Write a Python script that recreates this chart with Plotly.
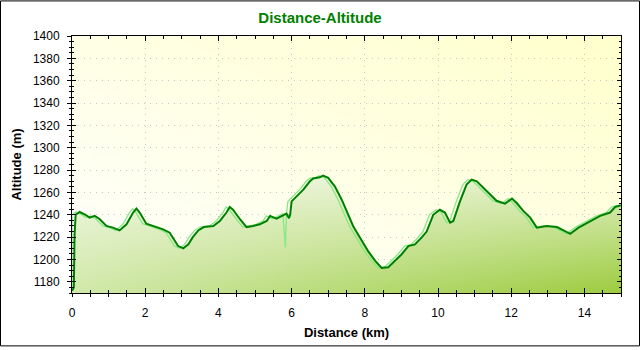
import base64, struct, zlib
import numpy as np
import plotly.graph_objects as go

# ---------------- data ----------------
dist_km = [0.0, 0.05, 0.07, 0.10, 0.21, 0.37, 0.48, 0.62, 0.76, 0.94, 1.12, 1.30, 1.49, 1.67,
           1.76, 1.85, 2.03, 2.21, 2.49, 2.67, 2.76, 2.90, 3.04, 3.18, 3.30, 3.45, 3.60, 3.86,
           4.04, 4.22, 4.31, 4.40, 4.59, 4.77, 4.95, 5.13, 5.32, 5.41, 5.59, 5.86, 5.93, 5.96,
           6.00, 6.14, 6.32, 6.50, 6.59, 6.77, 6.86, 7.00, 7.18, 7.37, 7.55, 7.68, 7.87, 8.09,
           8.28, 8.46, 8.64, 8.82, 9.00, 9.19, 9.37, 9.55, 9.69, 9.87, 10.05, 10.19, 10.33,
           10.42, 10.60, 10.78, 10.92, 11.06, 11.24, 11.42, 11.60, 11.83, 12.02, 12.15, 12.33,
           12.52, 12.70, 12.97, 13.25, 13.43, 13.61, 13.84, 14.16, 14.43, 14.70, 14.84, 15.0]
altitude_m = [1172, 1175, 1222, 1240, 1242.5, 1240, 1237.5, 1239, 1236, 1230, 1228.5, 1226,
              1231.5, 1242, 1245.5, 1242, 1232, 1230, 1227, 1224, 1219.5, 1212, 1210, 1213.5,
              1220, 1226, 1229, 1230, 1234.5, 1242, 1247, 1244.5, 1236, 1229, 1230, 1231.5,
              1234.5, 1239, 1236.5, 1241, 1237, 1240, 1252, 1256.5, 1262.5, 1270, 1272.5,
              1273.5, 1275, 1273, 1265.5, 1253.5, 1240.5, 1230, 1219.5, 1207.5, 1199, 1192.5,
              1193, 1199, 1204.5, 1212, 1213.5, 1219.5, 1225, 1240, 1244.5, 1242, 1233, 1234.5,
              1252, 1267, 1271.5, 1270, 1264, 1258, 1252.5, 1250, 1254.5, 1250.5, 1243.5,
              1237.5, 1228.5, 1230, 1229, 1226, 1223, 1228.5, 1234.5, 1239, 1242, 1247, 1248.5]
# raw (unsmoothed) track: same profile, slightly ahead, with a GPS glitch near 6 km
raw_shift_km = 0.1
raw_glitch = {40: 1211}

x_ticks = [0, 2, 4, 6, 8, 10, 12, 14]
y_ticks = list(range(1180, 1401, 20))
x_range = [0, 15]
y_range = [1170, 1400]

raw_dist = [max(0.0, d - raw_shift_km) for d in dist_km]
raw_alt = [raw_glitch.get(i, a) for i, a in enumerate(altitude_m)]

# ---------------- background gradient image ----------------
def png_b64(arr):
    h, w, _ = arr.shape
    raw = b"".join(b"\x00" + arr[r].tobytes() for r in range(h))
    def chunk(tag, data):
        c = tag + data
        return struct.pack(">I", len(data)) + c + struct.pack(">I", zlib.crc32(c) & 0xffffffff)
    png = b"\x89PNG\r\n\x1a\n" + chunk(b"IHDR", struct.pack(">IIBBBBB", w, h, 8, 2, 0, 0, 0)) \
        + chunk(b"IDAT", zlib.compress(raw, 9)) + chunk(b"IEND", b"")
    return "data:image/png;base64," + base64.b64encode(png).decode()

W, H = 128, 64
u = np.linspace(0, 1, W)[None, :]
v = np.linspace(0, 1, H)[:, None]
t = (u + (1 - v)) / 2.0
c0 = np.array([255, 255, 255], float)
c1 = np.array([255, 255, 205], float)
img = (c0[None, None, :] * (1 - t[..., None]) + c1[None, None, :] * t[..., None]).astype(np.uint8)
bg_src = png_b64(img)

fig = go.Figure()

# base green fill (horizontal gradient)
fig.add_trace(go.Scatter(
    x=dist_km, y=altitude_m, mode="lines", line=dict(width=0), fill="tozeroy",
    fillgradient=dict(type="horizontal", start=x_range[0], stop=x_range[1],
                      colorscale=[[0, "rgb(208,232,168)"], [1, "rgb(155,203,60)"]]),
    hoverinfo="skip", showlegend=False))
# white vertical overlay (lighter towards top)
fig.add_trace(go.Scatter(
    x=dist_km, y=altitude_m, mode="lines", line=dict(width=0), fill="tozeroy",
    fillgradient=dict(type="vertical", start=1170, stop=1280,
                      colorscale=[[0, "rgba(255,255,255,0)"], [0.68, "rgba(255,255,255,0.5)"],
                                  [1, "rgba(255,255,255,0.75)"]]),
    hoverinfo="skip", showlegend=False))
# raw track
fig.add_trace(go.Scatter(x=raw_dist, y=raw_alt, mode="lines",
                         line=dict(color="#86e886", width=1.3), showlegend=False))
# smoothed track
fig.add_trace(go.Scatter(x=dist_km, y=altitude_m, mode="lines",
                         line=dict(color="#008000", width=2), showlegend=False))
# invisible trace to activate overlay axes
fig.add_trace(go.Scatter(x=x_range, y=y_range, xaxis="x2", yaxis="y2", mode="lines",
                         line=dict(width=0), hoverinfo="skip", showlegend=False))

font_family = "Liberation Sans, Arial, sans-serif"
L, R, T, B = 72, 19, 36, 54
PW, PH = 640 - L - R, 350 - T - B

fig.update_layout(
    width=640, height=350,
    margin=dict(l=L, r=R, t=T, b=B),
    paper_bgcolor="white", plot_bgcolor="rgba(0,0,0,0)",
    font=dict(family=font_family, size=12, color="black"),
    title=dict(text="<b>Distance-Altitude</b>", x=0.5, xanchor="center",
               y=1 - 18 / 350, yanchor="middle", yref="container",
               font=dict(size=15, color="#008000", family=font_family)),
    xaxis=dict(range=x_range, tickvals=x_ticks, ticks="outside", ticklen=3, tickcolor="black",
               minor=dict(dtick=0.5, ticks="outside", ticklen=3, tickcolor="black", showgrid=False),
               showline=True, linecolor="black", linewidth=1, mirror=False,
               showgrid=True, gridcolor="#c8c8c8", griddash="1px,5px", gridwidth=1,
               zeroline=False, ticklabelstandoff=6,
               title=dict(text="<b>Distance (km)</b>", standoff=8, font=dict(size=13))),
    yaxis=dict(range=y_range, tickvals=y_ticks, ticks="outside", ticklen=4, tickcolor="black",
               minor=dict(dtick=5, ticks="outside", ticklen=2, tickcolor="black", showgrid=False),
               showline=True, linecolor="black", linewidth=1, mirror=False,
               showgrid=True, gridcolor="#c8c8c8", griddash="1px,5px", gridwidth=1,
               zeroline=False, ticklabelstandoff=5,
               title=dict(text="<b>Altitude (m)</b>", standoff=8, font=dict(size=13))),
    xaxis2=dict(range=x_range, overlaying="x", side="bottom", tickvals=x_ticks, ticks="inside",
                ticklen=5, tickcolor="black", showticklabels=False, showgrid=False,
                minor=dict(dtick=0.5, ticks="inside", ticklen=3, tickcolor="black"),
                showline=True, linecolor="black", mirror="ticks", zeroline=False),
    yaxis2=dict(range=y_range, overlaying="y", side="left", tickvals=y_ticks, ticks="inside",
                ticklen=4, tickcolor="black", showticklabels=False, showgrid=False,
                minor=dict(dtick=5, ticks="inside", ticklen=2, tickcolor="black"),
                showline=True, linecolor="black", mirror="ticks", zeroline=False),
    images=[dict(source=bg_src, xref="x", yref="y", x=x_range[0], y=y_range[1],
                 sizex=x_range[1] - x_range[0], sizey=y_range[1] - y_range[0],
                 sizing="stretch", layer="below", xanchor="left", yanchor="top")],
    shapes=[dict(type="rect", xref="paper", yref="paper",
                 x0=(-L + 0.5) / PW, x1=(PW + R - 0.5) / PW,
                 y0=(-B + 0.5) / PH, y1=(PH + T - 0.5) / PH,
                 line=dict(color="black", width=1), layer="above")],
    hovermode=False,
)

fig.write_html("out.html")
